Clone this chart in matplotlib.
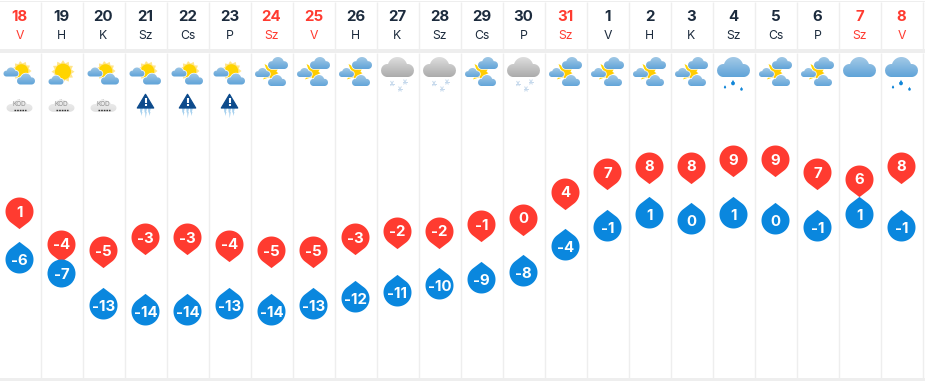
import numpy as np
import matplotlib
matplotlib.use("Agg")
import matplotlib.pyplot as plt
from matplotlib.path import Path
from matplotlib.patches import Polygon, Circle
from matplotlib.colors import LinearSegmentedColormap
from matplotlib.transforms import offset_copy

days = ["18","19","20","21","22","23","24","25","26","27","28","29","30","31","1","2","3","4","5","6","7","8"]
weekdays = ["V","H","K","Sz","Cs","P","Sz","V","H","K","Sz","Cs","P","Sz","V","H","K","Sz","Cs","P","Sz","V"]
weekend = [1,0,0,0,0,0,1,1,0,0,0,0,0,1,0,0,0,0,0,0,1,1]
highs = [1,-4,-5,-3,-3,-4,-5,-5,-3,-2,-2,-1,0,4,7,8,8,9,9,7,6,8]
lows = [-6,-7,-13,-14,-14,-13,-14,-13,-12,-11,-10,-9,-8,-4,-1,1,0,1,0,-1,1,-1]
icons = ["a","b","a","a","a","a","c","c","c","d","d","c","d","c","c","c","c","e","c","c","f","e"]
alerts = ["fog","fog","fog","ice","ice","ice"]

RED = "#ff3b30"; BLUE = "#0a87de"; DARK = "#1c2b3d"; LINE = "#eeeeee"
FONT = ["Inter", "DejaVu Sans"]
W, H = 925, 381
fig = plt.figure(figsize=(W/100, H/100), dpi=100, facecolor="white")

# pixel-space layer for the frame and the pictograms
px = fig.add_axes([0, 0, 1, 1]); px.axis("off")
# value layer: one column per day, temperature on y
ax = fig.add_axes([0, 0, 1, 1], facecolor="none"); ax.axis("off")
X0, DX, Y0, DY = 19.5, 42.0, 217.5, 6.5
ax.set_xlim(-X0/DX, (W-X0)/DX)
ax.set_ylim((Y0-H)/DY, Y0/DY)

def cx(i): return X0 + DX*i

# frame
for y0, y1 in [(0.6, 2.0), (49.3, 52.7), (378.3, 381)]:
    px.fill_between([0, W], y0, y1, color=LINE, lw=0, zorder=1)
for k in range(len(days)):
    px.plot([40.5+DX*k]*2, [2, 49.3], color=LINE, lw=1.0, zorder=1, solid_capstyle="butt")
    px.plot([40.5+DX*k]*2, [52.7, 378.3], color=LINE, lw=1.0, zorder=1, solid_capstyle="butt")

# header
for i, (d, w, r) in enumerate(zip(days, weekdays, weekend)):
    c = RED if r else DARK
    px.text(cx(i), 17.2, d, ha="center", va="center", fontsize=10.8, fontweight="bold", color=c, family=FONT, zorder=5)
    px.text(cx(i), 36, w, ha="center", va="center", fontsize=8.8, color=c, family=FONT, zorder=5)

def cloud_outline(xc, yc, w, h):
    lobes = [(-10, 13.5, 6.5), (0.2, 10, 10), (10.5, 13.5, 6.5)]
    xs = np.linspace(-16.5, 17, 90)
    top = np.full_like(xs, np.inf); bot = np.full_like(xs, -np.inf)
    for a, b, r in lobes:
        s = np.sqrt(np.clip(r*r-(xs-a)**2, 0, None))
        m = np.abs(xs-a) <= r
        top[m] = np.minimum(top[m], b-s[m]); bot[m] = np.maximum(bot[m], b+s[m])
    bot[(xs > -10) & (xs < 10.5)] = 20
    px_x = xc + (xs-0.25)*w/33.5
    return np.r_[np.c_[px_x, yc+(top-10)*h/20], np.c_[px_x, yc+(bot-10)*h/20][::-1]]

BLUE_CM = LinearSegmentedColormap.from_list("b", ["#a6cbe7", "#5da2d8"])
GREY_CM = LinearSegmentedColormap.from_list("g", ["#e0e0e0", "#a9a9a9"])
FOG_CM = LinearSegmentedColormap.from_list("f", ["#f0f0f0", "#dedede"])

def cloud(xc, yc, w, h, cmap=BLUE_CM, edge=True, z=3):
    v = cloud_outline(xc, yc, w, h)
    if edge:
        px.add_patch(Polygon(v, closed=True, fc="white", ec="white", lw=1.0, zorder=z))
    clip = Polygon(v, closed=True, fc="none", ec="none", zorder=z)
    px.add_patch(clip)
    im = px.imshow(np.linspace(0, 1, 32)[:, None], cmap=cmap, aspect="auto", zorder=z+0.1,
                   extent=[xc-w/2-1, xc+w/2+1, yc+h/2+1, yc-h/2-1], interpolation="bilinear")
    im.set_clip_path(clip)

def star(xc, yc, n, ro, ri, color, z=2, phase=0.0):
    t = phase + np.arange(2*n)*np.pi/n
    r = np.where(np.arange(2*n) % 2 == 0, ro, ri)
    px.add_patch(Polygon(np.c_[xc+r*np.cos(t), yc+r*np.sin(t)], closed=True, fc=color, ec="none", zorder=z))

def drop(x, y, s=1.6):
    px.add_patch(Circle((x, y+0.4), s, fc="#1186d8", ec="none", zorder=3))
    px.add_patch(Polygon([(x-s*0.8, y), (x+s*0.8, y), (x, y-s*1.7)], fc="#1186d8", ec="none", zorder=3))

def flake(x, y):
    for a in (0, 60, 120):
        t = np.deg2rad(a)
        px.plot([x-2.4*np.cos(t), x+2.4*np.cos(t)], [y-2.4*np.sin(t), y+2.4*np.sin(t)],
                color="#c6d9ec", lw=0.7, zorder=3)

def weather(kind, c):
    if kind == "a":
        star(c+2, 71, 11, 10, 7.6, "#ffe58a")
        px.add_patch(Circle((c+2, 71), 6.8, fc="#ffd400", ec="none", zorder=2.2))
        cloud(c-8.5, 72, 15, 9)
        cloud(c+6.5, 79, 18, 11, z=3.5)
    elif kind == "b":
        star(c+1.5, 71.7, 12, 11.5, 8.6, "#ffe58a")
        px.add_patch(Circle((c+1.5, 71.7), 8, fc="#ffd400", ec="none", zorder=2.2))
        cloud(c-5.5, 80, 15, 9)
    elif kind == "c":
        star(c, 72.5, 4, 11, 4.2, "#ffd400", phase=np.pi/4+0.1)
        star(c, 72.5, 4, 7, 3.5, "#ffcc00", z=2.1, phase=0.1)
        cloud(c+6.5, 63, 20, 12)
        cloud(c-9, 72.5, 15, 9)
        cloud(c+5.5, 80.5, 18, 11, z=3.5)
    elif kind == "d":
        cloud(c, 67, 33, 20, cmap=GREY_CM, edge=False)
        for dx, y in [(-5.5, 83.5), (7.5, 82), (2.5, 89)]:
            flake(c+dx, y)
    elif kind == "e":
        cloud(c, 67, 33, 20, edge=False)
        for dx, y, s in [(-0.5, 83, 1.9), (-8.5, 87, 1.1), (8, 89, 1.3)]:
            drop(c+dx, y, s)
    elif kind == "f":
        cloud(c, 67, 33, 20, edge=False)

def alert(kind, c):
    if kind == "fog":
        cloud(c, 105.8, 26, 12, cmap=FOG_CM, edge=False)
        px.text(c, 103.2, "KÖD", ha="center", va="center", fontsize=4.6, color="#8d8d8d",
                family=FONT, zorder=5)
        px.plot([c-6, c+6], [110.3, 110.3], color="#333333", lw=1.0, ls=(0, (1.2, 0.7)), zorder=5)
    else:
        for dx, tip in [(-4, 116), (0.3, 118.5), (4, 116)]:
            px.add_patch(Polygon([(c+dx-1.6, 107), (c+dx+1.6, 107), (c+dx+0.4, 112),
                                  (c+dx+1.0, 112), (c+dx-0.2, tip), (c+dx-0.6, 112.5), (c+dx-1.2, 112.5)],
                                 fc="#a9d2ef", ec="none", zorder=3))
        px.add_patch(Polygon([(c, 94.3), (c+8.2, 108), (c-8.2, 108)], fc="#0d4b8c", ec="#0d4b8c",
                             lw=0.9, joinstyle="round", zorder=4))
        px.plot([c, c], [98.2, 103.2], color="white", lw=1.5, zorder=5, solid_capstyle="butt")
        px.plot([c, c], [104.4, 106.2], color="white", lw=1.5, zorder=5, solid_capstyle="butt")

for i, k in enumerate(icons):
    weather(k, cx(i))
for i, k in enumerate(alerts):
    alert(k, cx(i))
px.set_xlim(0, W); px.set_ylim(H, 0)

# pins
R, TIP = 14.0, 17.6
def pin_path(sign):
    a = np.arccos(R/TIP)
    t = np.linspace(-np.pi/2+a, 3*np.pi/2-a, 60)
    v = np.c_[R*np.cos(t), R*np.sin(t)]
    v = np.r_[[[0, -TIP]], v, [[0, -TIP]]]
    v[:, 1] *= sign
    return Path(v, closed=True)

PT = 72/100
HIGH_PIN = pin_path(1); LOW_PIN = pin_path(-1)
LOW_OFF, MIN_GAP = 2.8, 29.4
LABEL = dict(ha="center", va="center_baseline", fontsize=10.8, fontweight="bold", color="white",
             family=FONT, zorder=8, textcoords="offset points")
for i, (hi, lo) in enumerate(zip(highs, lows)):
    ax.plot([i], [hi], marker=HIGH_PIN, ms=2*TIP*PT, mew=0, color=RED, zorder=6, ls="none")
    ax.annotate(str(hi), (i, hi), xytext=(0, -0.2), **LABEL)
    gap = (hi-lo)*DY + LOW_OFF
    shift = LOW_OFF + max(0, MIN_GAP-gap)
    trans = offset_copy(ax.transData, fig=fig, x=0, y=-shift, units="dots")
    m, ms = (LOW_PIN, 2*TIP*PT) if gap >= MIN_GAP else ("o", 2*R*PT)
    ax.plot([i], [lo], marker=m, ms=ms, mew=0, color=BLUE, zorder=7, ls="none", transform=trans)
    ax.annotate(str(lo), (i, lo), xytext=(0, -shift*PT-0.2), **LABEL)

fig.savefig("out.png", dpi=100)
